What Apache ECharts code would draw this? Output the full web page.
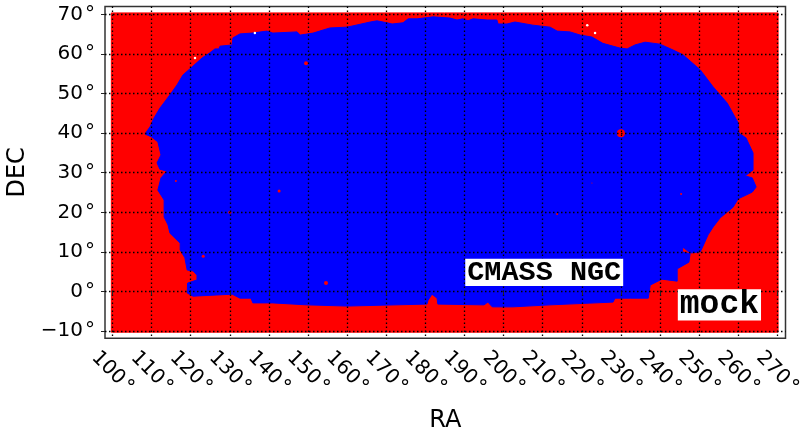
<!DOCTYPE html>
<html>
<head>
<meta charset="utf-8">
<style>html,body{margin:0;padding:0;background:#fff}#c{width:800px;height:430px}</style>
<script src="https://cdn.jsdelivr.net/npm/echarts@6/dist/echarts.min.js"></script>
</head>
<body>
<div id="c"></div>
<script>
var raTicks = [100,110,120,130,140,150,160,170,180,190,200,210,220,230,240,250,260,270];
var decTicks = [-10,0,10,20,30,40,50,60,70];
// mock footprint (red)
var mockRA = [99.7, 270.2, 270.2, 99.7];
var mockDEC = [70.4, 70.4, -10.3, -10.3];
// CMASS NGC footprint outline (blue)
var ngcRA = [108.3,109.6,110.6,112.1,113.7,115.2,116.5,118.0,120.3,122.9,124.9,126.2,127.2,127.5,130.6,130.8,132.6,135.7,139.5,141.0,147.2,148.0,151.3,155.6,160.0,165.9,167.6,170.2,171.5,174.3,175.6,177.9,182.0,186.3,188.1,189.6,190.9,192.2,195.8,198.3,198.6,200.9,202.9,207.5,211.9,213.7,217.0,219.6,222.6,225.4,229.8,231.6,233.6,236.2,240.0,243.4,245.9,250.3,253.6,257.2,260.0,260.2,262.0,263.8,263.8,261.8,263.6,264.6,263.6,260.0,258.7,255.4,253.6,252.3,250.8,250.3,247.7,245.9,245.7,247.7,247.4,244.4,244.4,240.5,237.5,237.0,232.4,228.5,228.0,211.9,202.4,197.1,196.0,195.0,183.2,183.0,181.7,180.7,180.4,160.0,149.7,141.0,135.9,135.4,132.6,130.6,126.7,120.6,119.1,119.2,121.6,121.6,120.6,119.1,118.5,117.3,117.3,114.7,114.2,113.2,113.2,111.6,112.4,113.9,112.1,111.4,112.4,111.6,110.1];
var ngcDEC = [39.8,41.6,43.8,46.3,48.4,50.4,52.2,54.7,56.7,59.0,60.3,61.3,61.3,62.0,62.3,64.1,65.1,65.3,65.8,65.3,65.6,64.8,65.3,66.6,66.8,68.1,68.4,67.9,67.6,67.9,68.9,68.9,69.4,69.1,68.6,68.9,68.4,68.9,68.6,68.6,67.6,67.6,68.1,67.3,66.8,65.8,65.6,64.8,64.3,62.7,61.5,61.3,62.3,63.0,62.5,61.0,59.8,56.0,51.7,47.6,42.6,40.0,38.8,35.0,30.7,29.2,28.7,26.4,25.1,23.4,21.3,18.6,16.3,14.3,11.0,10.0,9.7,11.2,10.0,9.5,7.4,5.7,2.6,3.1,1.6,-1.7,-1.7,-1.7,-2.7,-3.4,-3.9,-3.9,-2.7,-3.4,-3.2,-1.7,-0.7,-2.2,-3.2,-3.7,-3.4,-2.9,-2.9,-1.7,-1.7,-0.7,-0.9,-1.2,-0.4,2.1,2.9,4.1,5.2,5.4,8.5,10.5,12.2,14.7,16.8,18.8,23.1,25.6,28.7,30.4,30.9,32.5,34.5,37.8,39.0];
// red holes inside the footprint
var holeRA = [230.0,149.5,142.6,130.0,123.2,154.6,116.2,213.7,245.4,222.6];
var holeDEC = [40.0,57.7,25.4,20.0,8.9,2.1,27.9,19.6,24.6,27.4];
var holeSize = [8,4,3,3,3,4,2,2,2,1];
// white gaps in the mock
var gapRA = [136.4,223.4,221.4,121.1];
var gapDEC = [65.3,65.3,67.3,59.0];
var notes = [
  {text:'CMASS NGC', ra:210.4, dec:4.8, size:28.5},
  {text:'mock', ra:255.2, dec:-3.4, size:33}
];

function zipPts(a,b){return a.map(function(v,i){return [v,b[i]];});}
function polySeries(name,ra,dec,color,z){
  return {
    type:'custom', name:name, coordinateSystem:'cartesian2d', z:z, silent:true,
    clip:true,
    data:zipPts(ra,dec),
    encode:{x:0,y:1},
    renderItem:function(params,api){
      if(params.dataIndex!==0) return null;
      var pts=zipPts(ra,dec).map(function(p){return api.coord(p);});
      return {type:'polygon',shape:{points:pts},style:{fill:color,stroke:color,lineWidth:1}};
    }
  };
}
var chart = echarts.init(document.getElementById('c'),null,{renderer:'canvas'});
var tickColor='#222';
var lbl={color:'#000',fontFamily:'DejaVu Sans',fontSize:20};
chart.setOption({
  animation:false,
  backgroundColor:'#fff',
  grid:{left:105,right:14.5,top:6.5,height:331.8,outerBoundsMode:'none',show:true,backgroundColor:'#fff',borderColor:'#333',borderWidth:1.5},
  xAxis:{
    type:'value',min:98.08,max:272.1,z:20,
    name:'RA',nameLocation:'middle',nameGap:70,
    nameTextStyle:{color:'#000',fontFamily:'DejaVu Sans',fontSize:24},
    axisLine:{show:false},
    axisTick:{show:true,length:4,customValues:raTicks,lineStyle:{color:tickColor,width:1}},
    axisLabel:Object.assign({},lbl,{rotate:-45,align:'center',verticalAlign:'middle',margin:34,customValues:raTicks,hideOverlap:false,
      formatter:function(v){return v+'\u200a\u00b0';}}),
    splitLine:{show:true,lineStyle:{color:'#000',width:1.3,type:[1.5,2.5]}}
  },
  yAxis:{
    type:'value',min:-11.85,max:72.02,z:20,
    name:'DEC',nameLocation:'middle',nameGap:71,
    nameTextStyle:{color:'#000',fontFamily:'DejaVu Sans',fontSize:24},
    axisLine:{show:false},
    axisTick:{show:true,length:4,customValues:decTicks,lineStyle:{color:tickColor,width:1}},
    axisLabel:Object.assign({},lbl,{margin:10,customValues:decTicks,
      formatter:function(v){return String(v).replace('-','\u2212')+'\u200a\u00b0';}}),
    splitLine:{show:true,lineStyle:{color:'#000',width:1.3,type:[1.5,2.5]}}
  },
  series:[
    polySeries('mock',mockRA,mockDEC,'#ff0000',2),
    polySeries('CMASS NGC',ngcRA,ngcDEC,'#0000ff',3),
    {type:'scatter',z:4,silent:true,symbol:'circle',
      data:holeRA.map(function(v,i){return [v,holeDEC[i],holeSize[i]];}),
      symbolSize:function(d){return d[2];},
      itemStyle:{color:'#ff0000',opacity:1}},
    {type:'scatter',z:4,silent:true,symbol:'circle',symbolSize:2.5,
      data:zipPts(gapRA,gapDEC),itemStyle:{color:'#ffffff',opacity:1}},
    {type:'scatter',z:30,silent:true,symbolSize:1,
      itemStyle:{opacity:1,color:'#fff'},
      data:notes.map(function(n){
        return {value:[n.ra,n.dec],label:{show:true,position:'inside',formatter:n.text,opacity:1,
          fontFamily:'Liberation Mono',fontWeight:'bold',fontSize:n.size,color:'#000',
          backgroundColor:'#fff',padding:[2,2,1,2],lineHeight:n.size*0.85}};
      })}
  ]
});
</script>
</body>
</html>
